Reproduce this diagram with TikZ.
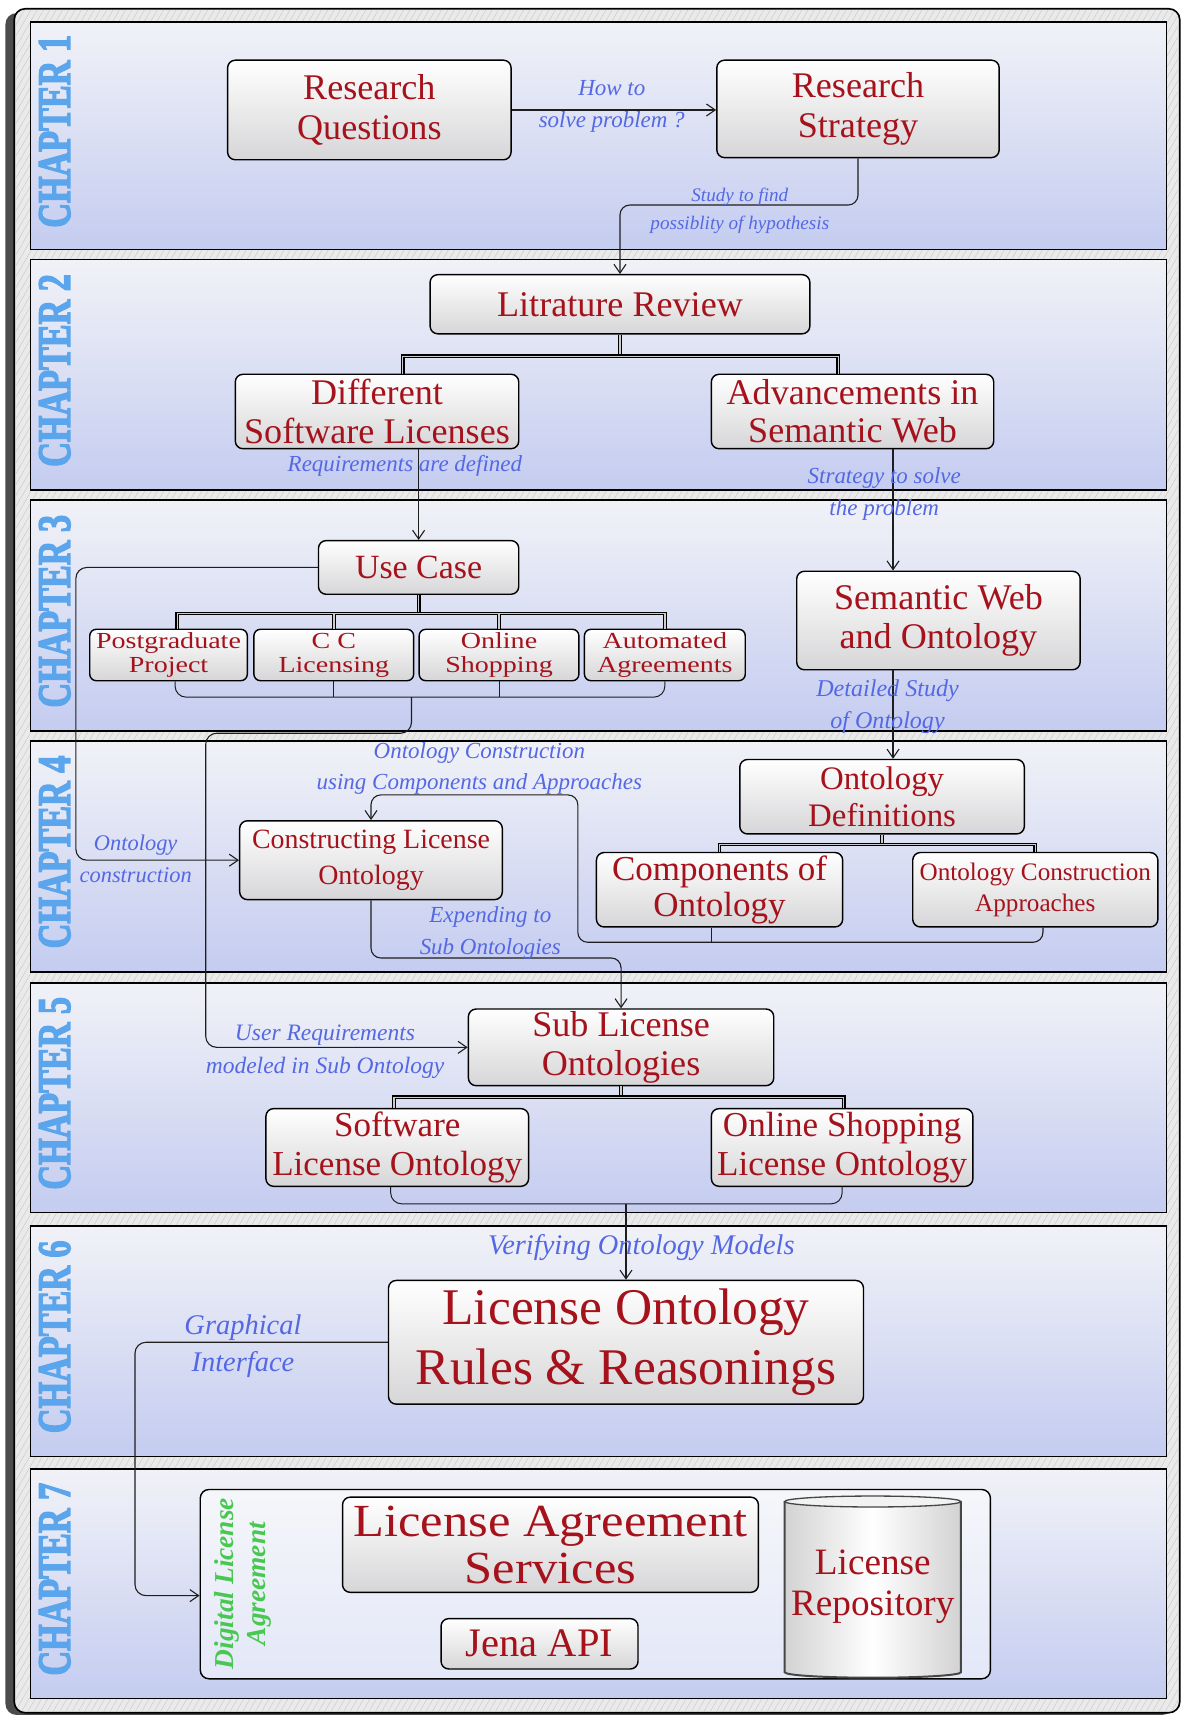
\documentclass[tikz,border=0pt]{standalone}
\usepackage{graphicx}
\usepackage{fontspec}
\setmainfont{Liberation Serif}
\newfontfamily\widefont{Liberation Serif}[FakeStretch=1.22]
\newfontfamily\lasfont{Liberation Serif}[FakeStretch=1.1]
\newfontfamily\chapfont{Liberation Serif}[BoldFeatures={FakeBold=3.5}]
\usetikzlibrary{arrows.meta,calc,patterns.meta}

\definecolor{rtext}{RGB}{166,18,28}
\definecolor{anntext}{RGB}{84,104,228}
\definecolor{chapblue}{RGB}{90,165,235}
\definecolor{dlagreen}{RGB}{72,200,80}
\definecolor{paneltop}{RGB}{241,242,247}
\definecolor{panelbot}{RGB}{196,204,240}
\definecolor{boxgray}{RGB}{214,214,216}
\definecolor{framebg}{RGB}{234,234,234}
\definecolor{linecol}{RGB}{30,30,30}

\newcommand\fsz[2]{\fontsize{#1}{#2}\selectfont}

\begin{document}
\begin{tikzpicture}[x=1pt,y=-1pt,
  box/.style={draw=black, line width=1.3pt, rounded corners=7pt,
    top color=white, bottom color=boxgray, text=rtext, align=center, inner sep=0pt},
  smallbox/.style={box, rounded corners=6pt, font=\widefont\fsz{21}{22}},
  ann/.style={text=anntext, align=center, inner sep=0pt},
  arr/.style={draw=linecol, line width=1pt, -{Straight Barb[length=8pt,width=11pt]}},
  brk/.style={draw=linecol, line width=0.9pt, rounded corners=10pt},
  tree/.style={draw=black, line width=1.1pt, double=gray!40, double distance=1.3pt},
  chap/.style={rotate=90, text=chapblue, inner sep=0pt},
  panel/.style={draw=black, line width=1.5pt, top color=paneltop, bottom color=panelbot},
]
\useasboundingbox (0,0) rectangle (1080,1568);
\fill[white] (0,0) rectangle (1080,1568);

% outer frame with its shadow and texture
\fill[black!70, rounded corners=10pt] (5,12) rectangle (1072,1567);
\draw[fill=framebg, line width=1.5pt, rounded corners=10pt] (13,8) rectangle (1078,1565);
\fill[pattern={Lines[angle=60,distance=5pt,line width=0.35pt]}, pattern color=gray!45,
  rounded corners=10pt] (14,9) rectangle (1077,1564);

% chapter panels
\foreach \ya/\yb/\n in {20/228/1, 237/448/2, 457/668/3, 677/888/4, 898/1108/5, 1120/1331/6, 1342/1552/7} {
  \draw[panel] (28,\ya) rectangle (1066,\yb);
  \node[chap] (chap\n) at (50,{(\ya+\yb)/2-4}) {\resizebox{176pt}{28pt}{\chapfont\bfseries CHAPTER \n}};
}

% ---------- Chapter 1 ----------
\node[box, font=\fsz{33}{36}, minimum width=259pt, minimum height=91pt] (rq) at (337.5,100.5) {Research\\Questions};
\node[box, font=\fsz{33}{36}, minimum width=258pt, minimum height=89pt] (rs) at (784,99.5) {Research\\Strategy};

% ---------- Chapter 2 ----------
\node[box, font=\fsz{33}{36}, minimum width=347pt, minimum height=54pt] (lr) at (566.5,278) {Litrature Review};
\node[box, font=\fsz{33}{35}, minimum width=259pt, minimum height=68pt] (dsl) at (344.5,376) {Different\\Software Licenses};
\node[box, font=\fsz{33}{35}, minimum width=258pt, minimum height=68pt] (asw) at (779,376) {Advancements in\\Semantic Web};

% ---------- Chapter 3 ----------
\node[box, font=\fsz{31}{34}, minimum width=183pt, minimum height=49pt] (uc) at (382.5,518.5) {Use Case};
\node[smallbox, minimum width=144pt, minimum height=47pt] (pp) at (154,598.5) {Postgraduate\\Project};
\node[smallbox, minimum width=146pt, minimum height=47pt] (cc) at (305,598.5) {C C\\Licensing};
\node[smallbox, minimum width=146pt, minimum height=47pt] (os) at (456,598.5) {Online\\Shopping};
\node[smallbox, minimum width=147pt, minimum height=47pt] (aa) at (607.5,598.5) {Automated\\Agreements};
\node[box, font=\fsz{33}{36}, minimum width=259pt, minimum height=90pt] (swo) at (857.5,567) {Semantic Web\\and Ontology};

% ---------- Chapter 4 ----------
\node[box, font=\fsz{30}{33}, minimum width=260pt, minimum height=68pt] (od) at (806,728) {Ontology\\Definitions};
\node[box, font=\fsz{32}{33}, minimum width=225pt, minimum height=68pt] (co) at (657.5,813) {Components of\\Ontology};
\node[box, font=\fsz{23}{28}, minimum width=224pt, minimum height=68pt] (oca) at (946,813) {Ontology Construction\\Approaches};
\node[box, font=\fsz{25.5}{33}, minimum width=240pt, minimum height=72pt] (clo) at (339,786) {Constructing License\\Ontology};

% ---------- Chapter 5 ----------
\node[box, font=\fsz{33}{35}, minimum width=279pt, minimum height=70pt] (slo) at (567.5,957) {Sub License\\Ontologies};
\node[box, font=\fsz{32}{35}, minimum width=240pt, minimum height=71pt] (sw) at (363,1048.5) {Software\\License Ontology};
\node[box, font=\fsz{32}{35}, minimum width=239pt, minimum height=71pt] (osl) at (769.5,1048.5) {Online Shopping\\License Ontology};

% ---------- Chapter 6 ----------
\node[box, font=\fsz{47}{55}, minimum width=434pt, minimum height=113pt] (lorr) at (572,1226.5) {License Ontology\\Rules \& Reasonings};

% ---------- Chapter 7 ----------
\node[draw=black, line width=1.3pt, rounded corners=8pt, fill=white, fill opacity=0.5,
  minimum width=722pt, minimum height=173pt] (dla) at (544,1447.5) {};
\node[rotate=90, text=dlagreen, font=\bfseries\itshape\fsz{25}{30}, align=center, inner sep=0pt] (dlat) at (222,1447) {Digital License\\Agreement};
\node[box, font=\lasfont\fsz{42}{43}, minimum width=380pt, minimum height=87pt] (las) at (503,1411.5) {License Agreement\\Services};
\node[box, font=\fsz{37}{40}, minimum width=180pt, minimum height=46pt] (jena) at (493,1502) {Jena API};
% repository drum
\fill[left color=gray!35, right color=gray!35, middle color=white]
  (717,1372) -- (717,1528) arc[start angle=180,end angle=360,x radius=80.5pt,y radius=5pt]
  -- (878,1372) arc[start angle=0,end angle=180,x radius=80.5pt,y radius=5pt] -- cycle;
\draw[gray!55!black, line width=1.8pt]
  (717,1372) -- (717,1528) arc[start angle=180,end angle=360,x radius=80.5pt,y radius=5pt]
  -- (878,1372);
\draw[gray!55!black, line width=1.2pt, fill=gray!10] (797.5,1372) ellipse[x radius=80.5pt, y radius=5pt];
\node[text=rtext, font=\fsz{34}{38}, align=center, inner sep=0pt, minimum width=161pt, minimum height=150pt] (repo) at (797.5,1450) {License\\Repository};

% ---------- hierarchy lines ----------
\coordinate (lrj) at ($(lr.south)+(0,20)$);
\coordinate (dslt) at ([xshift=23.5pt]dsl.north);
\coordinate (aswt) at ([xshift=-13pt]asw.north);
\draw[tree] (lr.south) -- (lrj);
\draw[tree] (dslt) |- (lrj) -| (aswt);

\coordinate (ucj) at ($(uc.south)+(0,17)$);
\coordinate (ppt) at ([xshift=8pt]pp.north);
\draw[tree] (uc.south) -- (ucj);
\draw[tree] (ppt) |- (ucj) -| (aa.north);
\draw[tree] (cc.north) -- (cc.north |- ucj);
\draw[tree] (os.north) -- (os.north |- ucj);

\coordinate (odj) at ($(od.south)+(0,9)$);
\draw[tree] (od.south) -- (odj);
\draw[tree] (co.north) |- (odj) -| (oca.north);

\coordinate (sloj) at ($(slo.south)+(0,10)$);
\coordinate (swt) at ([xshift=-3pt]sw.north);
\coordinate (oslt) at ([xshift=1.5pt]osl.north);
\draw[tree] (slo.south) -- (sloj);
\draw[tree] (swt) |- (sloj) -| (oslt);

% ---------- flow connectors ----------
\draw[arr] (rq.east) -- (rq.east -| rs.west);
\node[ann, font=\itshape\fsz{21}{29}] (l1) at (559,97.5) {How to\\solve problem ?};

\coordinate (rsl) at ($(lr.north)+(0,-63)$);
\draw[arr, rounded corners=9pt] (rs.south) |- (rsl) -- (lr.north);
\node[ann, font=\itshape\fsz{17.5}{25}] (l2) at (676,192.5) {Study to find\\possiblity of hypothesis};

\draw[arr] (dsl.south -| uc.north) -- (uc.north);
\node[ann, font=\itshape\fsz{21}{29}] (l3) at (370,426) {Requirements are defined};

\coordinate (a1) at ([xshift=37pt]asw.south);
\draw[arr] (a1) -- (a1 |- swo.north);
\node[ann, font=\itshape\fsz{21}{29}] (l4) at (808,451.5) {Strategy to solve\\the problem};

\coordinate (d1) at ([xshift=10pt]od.north);
\draw[arr] (d1 |- swo.south) -- (d1);
\node[ann, font=\itshape\fsz{22}{29}] (l5) at (811,645.5) {Detailed Study\\of Ontology};

% use case children bracket, on to the sub ontologies
\coordinate (ucb) at (376,637);
\coordinate (ppb) at ([xshift=6pt]pp.south);
\draw[brk] (ppb) |- (ucb) -| (aa.south);
\draw[brk] (cc.south) -- (cc.south |- ucb);
\draw[brk] (os.south) -- (os.south |- ucb);
\coordinate (ucc) at (188,670);
\draw[arr, rounded corners=10pt] (ucb) |- (ucc) |- (slo.west);
\node[ann, font=\itshape\fsz{21.5}{30}] (l6) at (297,961) {User Requirements\\modeled in Sub Ontology};

% use case to the constructing license ontology
\draw[arr, rounded corners=10pt] (uc.west) -| ($(clo.west)+(-149,0)$) -- (clo.west);
\node[ann, font=\itshape\fsz{20.5}{29}] (l7) at (124,784.5) {Ontology\\construction};

% components and approaches feed the construction
\coordinate (odb) at (528,861);
\coordinate (ocb) at ([xshift=7pt]oca.south);
\coordinate (cob) at ([xshift=-7pt]co.south);
\coordinate (clt) at ($(clo.north)+(0,-23)$);
\draw[arr, rounded corners=9pt] (ocb) |- (odb) |- (clt) -- (clo.north);
\draw[brk] (cob) -- (cob |- odb);
\node[ann, font=\itshape\fsz{21}{28}] (l8) at (438,702) {Ontology Construction\\using Components and Approaches};

\coordinate (cls) at ($(slo.north)+(0,-46)$);
\draw[arr, rounded corners=9pt] (clo.south) |- (cls) -- (slo.north);
\node[ann, font=\itshape\fsz{21}{29}] (l9) at (448,852.5) {Expending to\\Sub Ontologies};

% sub ontologies bracket down to the rules
\coordinate (swb) at (572,1100);
\coordinate (swbb) at ([xshift=-6pt]sw.south);
\draw[brk] (swbb) |- (swb) -| (osl.south);
\draw[arr] (swb) -- (swb |- lorr.north);
\node[ann, font=\itshape\fsz{26}{30}] (l10) at (586,1140) {Verifying Ontology Models};

\coordinate (dlaw) at ([yshift=-10.5pt]dla.west);
\draw[arr, rounded corners=10pt] (lorr.west) -| ($(dlaw)+(-59,0)$) -- (dlaw);
\node[ann, font=\itshape\fsz{26}{34}] (l11) at (222,1230) {Graphical\\Interface};

\end{tikzpicture}
\end{document}
